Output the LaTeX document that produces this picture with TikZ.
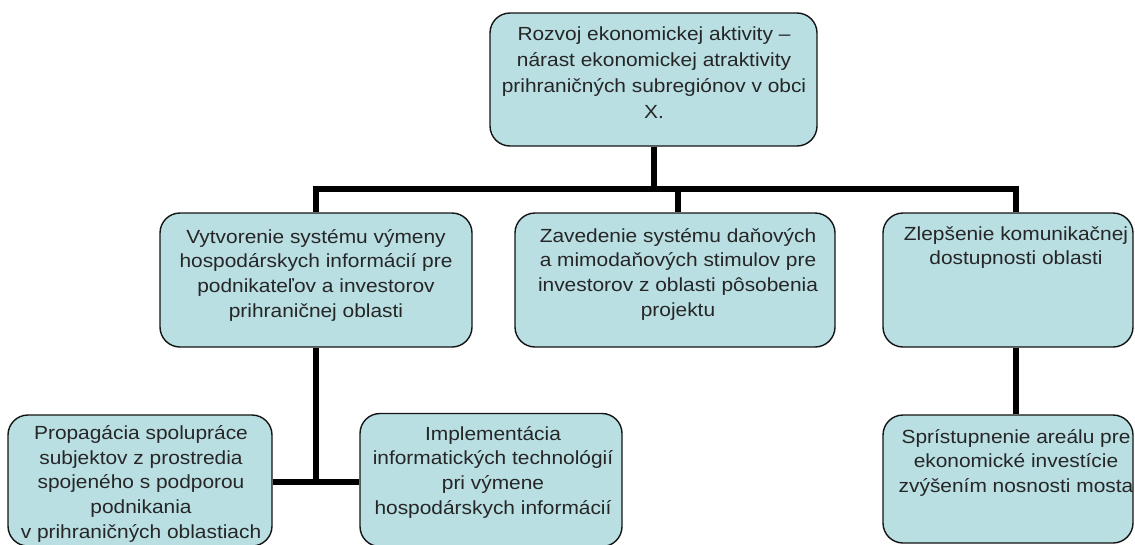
\documentclass[tikz,border=0pt]{standalone}
\usepackage{fontspec}
\setmainfont{Liberation Sans}[FakeStretch=1.1]
\usetikzlibrary{backgrounds}
\definecolor{boxfill}{RGB}{185,223,227}
\definecolor{textgray}{RGB}{38,38,38}
\begin{document}
\begin{tikzpicture}[x=1pt,y=-1pt,
  box/.style={draw=black!92, line width=1.4pt, fill=boxfill, rounded corners=20pt, inner sep=0pt},
  txt/.style={anchor=base, align=center, inner sep=0pt, text=textgray,
    font=\fontsize{19}{24.8}\selectfont},
  conn/.style={line width=6pt, draw=black, line join=miter}]
\useasboundingbox (0,0) rectangle (1135,544);

% goal (text nodes are placed by the baseline of their last line)
\node[box, minimum width=327pt, minimum height=133pt] (T) at (653.5,79.5) {};
\node[txt, font=\fontsize{19}{26}\selectfont] (Tt) at (654,118) {Rozvoj ekonomickej aktivity –\\ nárast ekonomickej atraktivity\\ prihraničných subregiónov v obci\\ X.};

% second level
\node[box, minimum width=312pt, minimum height=134pt] (A) at (316,280) {};
\node[txt] (At) at (316,317.4) {Vytvorenie systému výmeny\\ hospodárskych informácií pre\\ podnikateľov a investorov\\ prihraničnej oblasti};

\node[box, minimum width=320pt, minimum height=134pt] (B) at (675,280) {};
\node[txt] (Bt) at (678,316.4) {Zavedenie systému daňových\\ a mimodaňových stimulov pre\\ investorov z oblasti pôsobenia\\ projektu};

\node[box, minimum width=250pt, minimum height=134pt] (C) at (1008,280) {};
\node[txt] (Ct) at (1016,264.8) {Zlepšenie komunikačnej\\ dostupnosti oblasti};

% third level
\node[box, minimum width=264pt, minimum height=131pt] (D) at (140,480.5) {};
\node[txt] (Dt) at (141,538.5) {Propagácia spolupráce\\ subjektov z prostredia\\ spojeného s podporou\\ podnikania\\ v prihraničných oblastiach};

\node[box, minimum width=262pt, minimum height=133pt] (E) at (491,480) {};
\node[txt] (Et) at (493,514.4) {Implementácia\\ informatických technológií\\ pri výmene\\ hospodárskych informácií};

\node[box, minimum width=250pt, minimum height=128pt] (F) at (1008,479) {};
\node[txt] (Ft) at (1016,492.6) {Sprístupnenie areálu pre\\ ekonomické investície\\ zvýšením nosnosti mosta};

% connectors
\coordinate (bus) at (0,189);
\coordinate (lowbus) at (0,482);
\begin{scope}[on background layer]
  \draw[conn] (T.south) -- (T.south |- bus);
  \draw[conn] (A.north) |- (Ct |- bus) -- (Ct |- C.north);
  \draw[conn] (Bt |- bus) -- (Bt |- B.north);
  \draw[conn] (A.south) -- (A.south |- lowbus);
  \draw[conn] (D.east |- lowbus) -- (E.west |- lowbus);
  \draw[conn] (Ct |- C.south) -- (Ct |- F.north);
\end{scope}
\end{tikzpicture}
\end{document}
